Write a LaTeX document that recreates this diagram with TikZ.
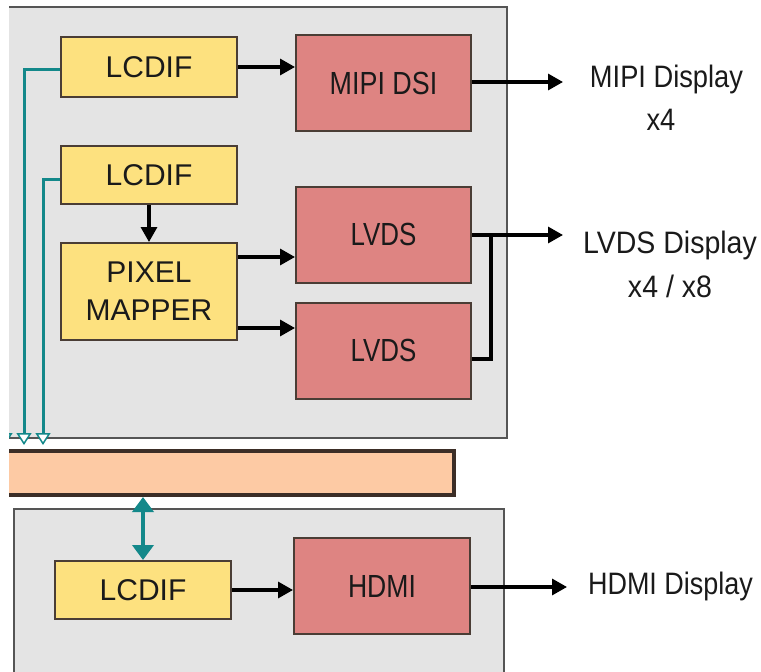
\documentclass[tikz,border=0pt]{standalone}
\usepackage{graphicx}
\usepackage{fontspec}
\setmainfont{Liberation Sans}
\usetikzlibrary{arrows.meta}

\definecolor{panelgray}{HTML}{E4E4E4}
\definecolor{panelline}{HTML}{555555}
\definecolor{lcdyellow}{HTML}{FDE17F}
\definecolor{phyred}{HTML}{DE8482}
\definecolor{busorange}{HTML}{FDCAA4}
\definecolor{busline}{HTML}{3C2E27}
\definecolor{blockline}{HTML}{4A3D35}
\definecolor{linkteal}{HTML}{13888A}
\definecolor{inktext}{HTML}{1A1A1A}

\tikzset{
  panel/.style={draw=panelline, fill=panelgray, line width=1.8pt},
  block/.style={draw=blockline, line width=2pt, inner sep=0pt, align=center,
    text=inktext, font=\fontsize{30}{38}\selectfont},
  lcd/.style={block, fill=lcdyellow, minimum width=176pt},
  phy/.style={block, fill=phyred, minimum width=175pt, minimum height=96pt,
    font=\fontsize{32}{38}\selectfont},
  busbar/.style={draw=busline, fill=busorange, line width=4pt, inner sep=0pt},
  outlabel/.style={anchor=base, inner sep=0pt, text=inktext, font=\fontsize{31}{36}\selectfont},
  sig/.style={line width=3.2pt, -{Triangle[length=15pt,width=16pt]}},
  wire/.style={line width=3.2pt},
  busdown/.style={draw=linkteal, line width=3pt,
    -{Triangle[length=12pt,width=15pt,fill=white,line width=1.5pt]}},
  busboth/.style={draw=linkteal, line width=4.5pt,
    {Triangle[length=15pt,width=21pt]}-{Triangle[length=15pt,width=21pt]}}
}

\begin{document}
\begin{tikzpicture}[x=1pt,y=-1pt]
\useasboundingbox (0,0) rectangle (761,672);
\clip (0,0) rectangle (761,672);

% display controller panel and the shared bus run past the left edge
\begin{scope}
  \clip (9,0) rectangle (761,672);
  \draw[panel] (-5,7) rectangle (507,438);
  \node[busbar, minimum width=458.5pt, minimum height=44pt] (bus) at (224.25,473) {};
  % third display interface feeding the bus, mostly hidden at the edge
  \coordinate (extTop) at (5,420);
  \coordinate (extTip) at (5,445);
  \draw[busdown] (extTop) -- (extTip);
\end{scope}

% HDMI subsystem panel
\draw[panel] (14,509) rectangle (504,690);

% blocks of the upper panel
\node[lcd, minimum height=60pt] (lcdA) at (149,67) {LCDIF};
\node[lcd, minimum height=58pt] (lcdB) at (149,175) {LCDIF};
\node[lcd, minimum height=97pt] (pixmap) at (149,291.5) {PIXEL\\MAPPER};
\node[phy] (mipi) at (383.5,83) {\scalebox{0.84}[1]{MIPI DSI}};
\node[phy] (lvdsA) at (383.5,234.5) {\scalebox{0.81}[1]{LVDS}};
\node[phy] (lvdsB) at (383.5,350.5) {\scalebox{0.81}[1]{LVDS}};

% blocks of the lower panel
\node[lcd, minimum height=58pt] (lcdC) at (143,590) {LCDIF};
\node[phy, minimum width=176pt] (hdmi) at (382,586) {\scalebox{0.83}[1]{HDMI}};

% external display labels
\node[outlabel] (mipiTxt) at (666.5,87) {\scalebox{0.88}[1]{MIPI Display}};
\node[outlabel] (mipiNum) at (661,130) {\scalebox{0.88}[1]{x4}};
\node[outlabel] (lvdsTxt) at (670,253) {\scalebox{0.92}[1]{LVDS Display}};
\node[outlabel] (lvdsNum) at (670,297) {\scalebox{0.92}[1]{x4 / x8}};
\node[outlabel] (hdmiTxt) at (670.5,594) {\scalebox{0.87}[1]{HDMI Display}};

% end points of the outgoing links
\coordinate (mipiOut) at (563,82);
\coordinate (lvdsOut) at (563,235);
\coordinate (lvdsJoin) at (491,235);
\coordinate (hdmiOut) at (567,587);

% pixel data paths
\draw[sig] (lcdA.east) -- (lcdA.east -| mipi.west);
\draw[sig] (lcdB.south) -- (pixmap.north);
\draw[sig] ([yshift=34.5pt]pixmap.east) -- ([yshift=34.5pt]pixmap.east -| lvdsA.west);
\draw[sig] ([yshift=-36.5pt]pixmap.east) -- ([yshift=-36.5pt]pixmap.east -| lvdsB.west);
\draw[sig] (lcdC.east) -- (lcdC.east -| hdmi.west);

% outputs to the displays
\draw[sig] (mipi.east |- mipiOut) -- (mipiOut);
\draw[sig] (lvdsA.east |- lvdsOut) -- (lvdsOut);
\draw[wire] ([yshift=-8.5pt]lvdsB.east) -| (lvdsJoin);
\draw[sig] (hdmi.east |- hdmiOut) -- (hdmiOut);

% bus connections
\coordinate (tipA) at (24,445);
\coordinate (tipB) at (43,445);
\draw[busdown] ([yshift=-2pt]lcdA.west) -| (tipA);
\draw[busdown] ([yshift=-4pt]lcdB.west) -| (tipB);
\draw[busboth] (lcdC.north) -- (lcdC.north |- bus.south);
\end{tikzpicture}
\end{document}
